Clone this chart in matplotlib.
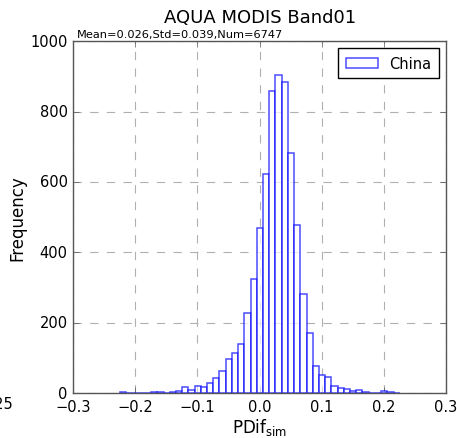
import numpy as np
import matplotlib
matplotlib.use("Agg")
import matplotlib.pyplot as plt

# ---- data ----
bin_start = -0.2245
bin_width = 0.01
counts = [2, 1, 0, 0, 0, 3, 2, 1, 2, 6,
          18, 8, 20, 18, 28, 42, 63, 97, 114, 138,
          226, 324, 469, 621, 857, 904, 884, 681, 478, 280,
          170, 77, 50, 45, 19, 14, 12, 6, 8, 4,
          1, 1, 5, 2, 1]
title = "AQUA MODIS Band01"
subtitle = "Mean=0.026,Std=0.039,Num=6747"
series_label = "China"
xticks = [-0.3, -0.2, -0.1, 0.0, 0.1, 0.2, 0.3]
yticks = [0, 200, 400, 600, 800, 1000]

edges = bin_start + bin_width * np.arange(len(counts) + 1)
centers = (edges[:-1] + edges[1:]) / 2

plt.style.use("classic")
plt.rcParams["font.family"] = ["DejaVu Sans"]
plt.rcParams["mathtext.fontset"] = "dejavusans"
plt.rcParams["mathtext.default"] = "regular"

fig = plt.figure(figsize=(4.57, 4.39), dpi=100, facecolor="white")
ax = fig.add_axes([0.160, 0.1025, 0.816, 0.8015])

ax.hist(centers, bins=edges, weights=counts, histtype="bar",
        facecolor="white", edgecolor="blue", alpha=0.7, linewidth=1.1,
        label=series_label)

ax.set_xlim(-0.3, 0.3)
ax.set_ylim(0, 1000)
ax.set_xticks(xticks)
ax.set_yticks(yticks)
ax.set_xticklabels(["\u22120.3", "\u22120.2", "\u22120.1", "0.0", "0.1", "0.2", "0.3"])
ax.tick_params(labelsize=10.5, direction="in", length=4, color="#555555")
for s in ax.spines.values():
    s.set_color("#555555")
ax.grid(True, color="#b0b0b0", linestyle="--", linewidth=0.8)
ax.set_axisbelow(True)

ax.set_xlabel("PDif$_{sim}$", fontsize=12)
ax.xaxis.set_label_coords(0.5, -0.066)
ax.set_ylabel("Frequency", fontsize=12)
ax.yaxis.set_label_coords(-0.125, 0.5)
ax.set_title(title, fontsize=13, y=1.035)
ax.text(0.01, 1.005, subtitle, transform=ax.transAxes, fontsize=8.2,
        ha="left", va="bottom")

leg = ax.legend(loc="upper right", fontsize=10.5, fancybox=False,
                handlelength=2.2, borderpad=0.5)
leg.get_frame().set_edgecolor("black")

fig.text(13 / 457, 1 - 397 / 439, "0.25", fontsize=10.5, ha="right", va="top")

fig.savefig("out.png", dpi=100, facecolor="white")
